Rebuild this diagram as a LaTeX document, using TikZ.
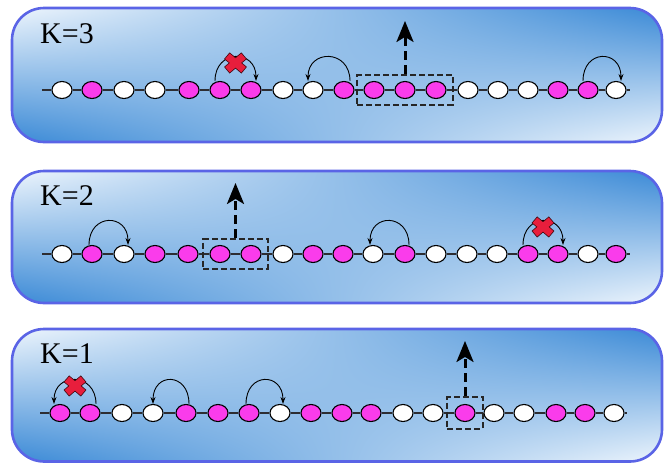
\documentclass[tikz,border=0pt]{standalone}
\usepackage{fontspec}
\setmainfont{Liberation Serif}
\usetikzlibrary{shapes.geometric,arrows.meta,fit,calc}
\pgfdeclarefunctionalshading{panelshade}{\pgfpoint{0bp}{0bp}}{\pgfpoint{100bp}{100bp}}{}{
  25 sub 50 div dup 0 lt {pop 0} if dup 1 gt {pop 1} if
  exch
  25 sub 50 div dup 0 lt {pop 0} if dup 1 gt {pop 1} if
  2 copy mul 2 mul
  3 1 roll add
  sub 1 add
  dup -0.70 mul 0.93 add exch
  dup -0.42 mul 0.96 add exch
  -0.15 mul 0.99 add
}
\definecolor{beadpink}{RGB}{250,60,235}
\definecolor{panelborder}{RGB}{90,100,230}
\definecolor{xred}{RGB}{232,30,60}
\definecolor{chaingray}{RGB}{45,45,50}
\tikzset{
  panel/.style={shade, shading=panelshade, draw=panelborder, line width=2.6pt, rounded corners=32pt},
  beadw/.style={ellipse, draw=black, fill=white, line width=1.1pt, minimum width=20pt, minimum height=17pt, inner sep=0pt},
  beadm/.style={beadw, fill=beadpink},
  chain/.style={draw=chaingray, line width=1.1pt},
  hop/.style={-{Stealth[length=7pt,width=5pt]}, line width=0.9pt},
  dbox/.style={draw=black!85, dashed, dash pattern=on 6pt off 3pt, line width=2pt, inner sep=6pt, rectangle},
  bigarrow/.style={-{Stealth[length=21pt,width=17pt,inset=5pt]}, line width=3pt, dash pattern=on 9pt off 5pt, draw=black},
  klabel/.style={anchor=base west, inner sep=0pt, font=\fontsize{30}{36}\selectfont},
  redx/.pic={
    \foreach \a in {40,-40} {\draw[black!70!xred, line width=1.6pt, rotate=\a] (-10.5,-3.5) rectangle (10.5,3.5);}
    \foreach \a in {40,-40} {\fill[xred, rotate=\a] (-10.5,-3.5) rectangle (10.5,3.5);}
  }
}
% #1 name, #2 y, #3 list of colour/x pairs, #4 left end x, #5 right end x
\newcommand\beadrow[5]{%
  \foreach \c/\x [count=\i] in {#3} {\node[bead\c] (#1-\i) at (\x,#2) {};}
  \coordinate (#1-L) at (#4,#2);
  \coordinate (#1-R) at (#5,#2);
  \draw[chain] (#1-L) -- (#1-1);
  \foreach \i in {1,...,18} {\pgfmathtruncatemacro\j{\i+1}\draw[chain] (#1-\i) -- (#1-\j);}
  \draw[chain] (#1-19) -- (#1-R);
}
\begin{document}
\begin{tikzpicture}[x=1pt,y=-1pt]
\useasboundingbox (0,0) rectangle (667,464);
% panels
\path[panel] (12,8) rectangle (662,142);
\path[panel] (12,171) rectangle (662,303);
\path[panel] (12,329) rectangle (662,461.5);
% labels
\node[klabel] (k3) at (40,43) {K=3};
\node[klabel] (k2) at (40,205) {K=2};
\node[klabel] (k1) at (40,363) {K=1};
% rows
\beadrow{p1}{90}{w/62,m/92,w/124,w/155,m/189,m/220,m/251,w/283,w/313,m/344,m/374,m/405,m/436,w/468,w/498,w/528,m/558,m/588,w/616}{42}{630}
\beadrow{p2}{254}{w/62,m/92,w/124,m/155,m/188,m/220,m/251,w/283,m/313,m/343,w/373,m/405,w/436,w/467,w/497,m/528,m/558,w/588,m/616}{42}{630}
\beadrow{p3}{413}{m/60,m/90,w/122,w/153,m/186,m/218,m/249,w/280,m/311,m/342,m/371,w/403,w/433,m/465,w/494,w/524,m/556,m/585,w/614}{40}{627}
% panel 1 hops
\draw[hop] ([xshift=-5pt]p1-6.north) .. controls +(0,-32) and +(0,-32) .. ([xshift=5pt]p1-7.north);
\pic at ($(p1-6.north)!0.5!(p1-7.north)+(0,-18)$) {redx};
\draw[hop] ([xshift=6pt]p1-10.north) .. controls +(0,-32) and +(0,-32) .. ([xshift=-5pt]p1-9.north);
\draw[hop] ([xshift=-5pt]p1-18.north) .. controls +(0,-32) and +(0,-32) .. ([xshift=5pt]p1-19.north);
\node[dbox, fit=(p1-11)(p1-13)] (b1) {};
\path (b1.north) ++(0,-53) coordinate (t1);
\draw[bigarrow] (b1.north) -- (t1);
% panel 2 hops
\draw[hop] ([xshift=-3pt]p2-2.north) .. controls +(0,-32) and +(0,-32) .. ([xshift=4pt]p2-3.north);
\draw[hop] ([xshift=4pt]p2-12.north) .. controls +(0,-32) and +(0,-32) .. ([xshift=-3pt]p2-11.north);
\draw[hop] ([xshift=-5pt]p2-16.north) .. controls +(0,-32) and +(0,-32) .. ([xshift=5pt]p2-17.north);
\pic at ($(p2-16.north)!0.5!(p2-17.north)+(0,-18)$) {redx};
\node[dbox, fit=(p2-6)(p2-7)] (b2) {};
\path (b2.north) ++(0,-55) coordinate (t2);
\draw[bigarrow] (b2.north) -- (t2);
% panel 3 hops
\draw[hop] ([xshift=6pt]p3-2.north) .. controls +(0,-32) and +(0,-32) .. ([xshift=-6pt]p3-1.north);
\pic at ($(p3-2.north)!0.5!(p3-1.north)+(0,-18)$) {redx};
\draw[hop] ([xshift=3pt]p3-5.north) .. controls +(0,-32) and +(0,-32) .. ([xshift=0pt]p3-4.north);
\draw[hop] ([xshift=-3pt]p3-7.north) .. controls +(0,-32) and +(0,-32) .. ([xshift=3pt]p3-8.north);
\node[dbox, inner sep=7pt, fit=(p3-14)] (b3) {};
\path (b3.north) ++(0,-55) coordinate (t3);
\draw[bigarrow] (b3.north) -- (t3);
\end{tikzpicture}
\end{document}
